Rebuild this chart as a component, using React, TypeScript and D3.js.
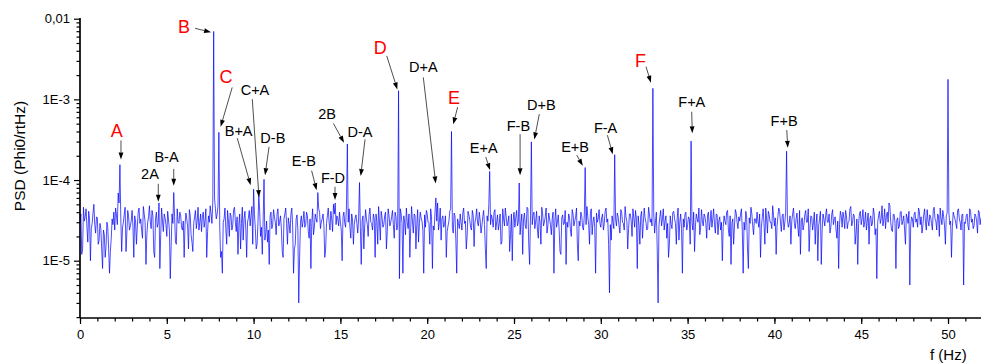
import { useEffect, useRef } from "react";
import * as d3 from "d3";

// Noise floor, in units of 1e-6 Phi0/rtHz, sampled every 0.1 Hz (one row per Hz).
const NOISE_STEP = 0.1;
const NOISE = [
  30, 12, 46, 35, 26, 41, 10, 29, 50, 22,
  34, 18, 25, 8, 21, 15, 26, 7, 19, 28,
  24, 37, 69, 40, 13, 30, 46, 22, 35, 27,
  42, 11, 31, 26, 45, 33, 19, 38, 9, 30,
  48, 25, 36, 11, 40, 29, 8, 45, 23, 34,
  20, 32, 6, 38, 27, 17, 44, 29, 36, 24,
  11, 39, 27, 43, 21, 13, 35, 25, 46, 30,
  23, 40, 31, 11, 36, 48, 29, 33, 44, 38,
  52, 11, 7, 33, 25, 42, 20, 36, 28, 46,
  23, 12, 38, 29, 18, 41, 11, 34, 27, 47,
  30, 25, 16, 35, 20, 12, 37, 22, 17, 9,
  40, 28, 35, 21, 44, 30, 25, 11, 38, 29,
  34, 22, 45, 7, 16, 37, 3, 30, 26, 41,
  28, 36, 19, 8, 44, 26, 33, 22, 40, 30,
  38, 11, 29, 45, 24, 33, 50, 21, 36, 27,
  30, 10, 40, 26, 35, 44, 19, 32, 28, 37,
  22, 42, 9, 36, 27, 33, 20, 45, 29, 38,
  11, 31, 47, 18, 34, 28, 40, 23, 36, 30,
  42, 19, 35, 27, 6, 38, 7, 30, 45, 25,
  11, 47, 22, 36, 28, 17, 40, 31, 7, 26,
  38, 29, 44, 8, 24, 35, 52, 30, 18, 36,
  28, 11, 27, 41, 33, 22, 36, 7, 29, 38,
  24, 45, 31, 20, 37, 26, 42, 15, 34, 29,
  40, 22, 35, 28, 8, 31, 19, 37, 26, 43,
  30, 24, 38, 17, 33, 45, 27, 36, 21, 10,
  40, 34, 27, 48, 30, 12, 39, 25, 44, 9,
  33, 37, 25, 41, 19, 30, 46, 27, 35, 22,
  39, 28, 33, 7, 44, 30, 24, 12, 37, 29,
  9, 26, 34, 20, 38, 31, 45, 10, 27, 36,
  24, 32, 47, 28, 39, 21, 35, 7, 30, 43,
  26, 38, 29, 45, 33, 4, 18, 30, 42, 27,
  35, 22, 40, 29, 47, 31, 25, 38, 20, 34,
  42, 8, 28, 36, 19, 45, 30, 25, 38, 33,
  30, 22, 40, 3, 35, 27, 44, 31, 19, 11,
  36, 25, 41, 29, 34, 18, 38, 7, 26, 40,
  28, 33, 45, 24, 13, 38, 30, 21, 43, 27,
  35, 19, 40, 30, 26, 44, 22, 37, 31, 24,
  10, 36, 28, 42, 20, 9, 33, 27, 39, 25,
  31, 44, 7, 24, 36, 8, 29, 38, 21, 33,
  40, 26, 11, 34, 29, 45, 22, 37, 30, 48,
  27, 12, 35, 41, 23, 38, 30, 44, 26, 36,
  31, 45, 25, 39, 20, 12, 34, 28, 42, 30,
  13, 36, 24, 40, 29, 10, 33, 9, 38, 27,
  44, 30, 22, 37, 28, 35, 19, 8, 41, 26,
  34, 42, 25, 31, 47, 29, 36, 22, 9, 38,
  28, 43, 30, 24, 39, 33, 27, 45, 21, 6,
  36, 29, 48, 32, 25, 40, 52, 30, 23, 37,
  8, 34, 27, 41, 31, 24, 38, 29, 5, 35,
  26, 40, 33, 45, 28, 22, 37, 30, 43, 27,
  35, 24, 46, 31, 38, 20, 33, 42, 27, 36,
  30, 28, 11, 40, 33, 25, 44, 30, 37, 5,
  29, 38, 24, 41, 33, 27, 36, 22, 40, 34,
];

// Samples in between (at 0.05 Hz + k * 0.1 Hz), same units.
const NOISE_MID = [
  38, 14, 31, 44, 17, 33, 25, 39, 28, 35,
  16, 29, 14, 24, 11, 30, 14, 13, 33, 40,
  45, 28, 52, 33, 26, 38, 13, 42, 24, 31,
  27, 36, 16, 40, 29, 24, 47, 30, 21, 35,
  30, 42, 13, 33, 26, 52, 21, 31, 38, 28,
  41, 24, 15, 29, 35, 16, 30, 40, 26, 31,
  28, 33, 14, 36, 17, 29, 42, 31, 24, 38,
  35, 26, 44, 23, 30, 38, 55, 60, 33, 48,
  26, 13, 30, 45, 16, 31, 39, 24, 43, 30,
  35, 28, 14, 46, 33, 25, 30, 42, 36, 16,
  37, 14, 29, 41, 26, 32, 18, 31, 24, 36,
  25, 43, 30, 38, 27, 36, 13, 33, 45, 16,
  28, 38, 27, 14, 33, 24, 11, 36, 31, 26,
  40, 23, 33, 29, 21, 38, 30, 44, 25, 33,
  27, 14, 36, 30, 41, 23, 38, 28, 33, 40,
  24, 35, 29, 48, 30, 26, 38, 16, 34, 29,
  34, 26, 31, 14, 43, 28, 37, 30, 24, 33,
  38, 16, 30, 41, 26, 36, 14, 44, 27, 35,
  28, 40, 24, 33, 44, 29, 36, 21, 30, 38,
  25, 31, 38, 14, 43, 29, 34, 24, 37, 42,
  30, 16, 35, 27, 40, 31, 24, 45, 33, 26,
  36, 23, 31, 44, 26, 39, 18, 33, 25, 30,
  39, 29, 14, 41, 32, 24, 36, 30, 44, 27,
  32, 27, 42, 14, 36, 50, 28, 33, 40, 24,
  37, 29, 16, 44, 27, 35, 30, 13, 38, 31,
  26, 42, 30, 21, 38, 33, 27, 46, 16, 36,
  28, 40, 31, 24, 36, 16, 38, 30, 45, 27,
  33, 21, 40, 30, 26, 37, 13, 34, 28, 42,
  30, 38, 24, 43, 27, 35, 16, 31, 40, 26,
  37, 28, 35, 16, 44, 30, 26, 39, 33, 29,
  34, 24, 41, 30, 16, 28, 36, 25, 33, 39,
  27, 43, 30, 24, 35, 14, 38, 31, 44, 26,
  33, 36, 16, 41, 29, 34, 24, 46, 30, 27,
  38, 31, 14, 27, 42, 33, 24, 36, 29, 16,
  28, 40, 33, 16, 45, 30, 25, 33, 38, 24,
  35, 16, 30, 40, 27, 33, 45, 26, 31, 38,
  29, 37, 24, 42, 33, 28, 38, 21, 35, 30,
  26, 31, 40, 24, 36, 29, 16, 43, 30, 35,
  38, 24, 30, 41, 14, 34, 46, 27, 33, 29,
  31, 38, 26, 44, 16, 33, 41, 30, 25, 36,
  34, 27, 45, 30, 36, 24, 40, 33, 29, 16,
  38, 29, 33, 26, 42, 31, 24, 37, 30, 44,
  26, 35, 30, 16, 38, 27, 41, 24, 33, 36,
  30, 38, 26, 43, 33, 24, 31, 28, 36, 40,
  25, 36, 30, 44, 27, 38, 16, 33, 29, 41,
  33, 26, 40, 31, 16, 36, 29, 38, 25, 30,
  41, 33, 27, 44, 36, 30, 48, 24, 38, 29,
  32, 25, 40, 28, 36, 16, 34, 41, 27, 33,
  38, 30, 26, 41, 35, 27, 44, 24, 31, 37,
  29, 42, 33, 24, 36, 45, 28, 35, 16, 39,
  40, 31, 26, 36, 29, 42, 33, 24, 38, 30,
  36, 27, 44, 30, 25, 38, 31, 42, 28, 35,
];

// Spectral lines (Hz, Phi0/rtHz).
const PEAK_FREQ = [2.3, 5.4, 7.7, 8.0, 10.0, 10.3, 10.6, 13.7, 14.7, 15.4, 16.1, 18.35, 20.5, 21.4, 23.6, 25.3, 26.0, 29.1, 30.8, 33.0, 35.2, 40.7, 50.0];
const PEAK_VALUE = [1.55e-4, 7.0e-5, 6.95e-3, 3.9e-4, 7.7e-5, 6.5e-5, 1.02e-4, 7.0e-5, 5.2e-5, 2.8e-4, 9.3e-5, 1.28e-3, 6.0e-5, 4.0e-4, 1.28e-4, 9.2e-5, 2.97e-4, 1.43e-4, 2.06e-4, 1.37e-3, 3.04e-4, 2.28e-4, 1.77e-3];

// Annotations: label and where its arrow points (Hz, Phi0/rtHz).
const NOTE_TEXT = ["A", "2A", "B-A", "B", "C", "B+A", "C+A", "D-B", "E-B", "F-D", "2B", "D-A", "D", "D+A", "E", "E+A", "F-B", "D+B", "E+B", "F-A", "F", "F+A", "F+B"];
const NOTE_FREQ = [2.36, 4.51, 5.4, 7.55, 8.1, 9.83, 10.31, 10.66, 13.63, 14.69, 15.21, 16.17, 18.28, 20.49, 21.5, 23.62, 25.35, 26.17, 28.96, 30.69, 32.89, 35.27, 40.77];
const NOTE_VALUE = [1.8e-4, 5.37e-5, 8.47e-5, 6.78e-3, 4.57e-4, 8.65e-5, 6.14e-5, 1.15e-4, 7.5e-5, 5.64e-5, 2.9e-4, 1.12e-4, 1.33e-3, 9.08e-5, 4.9e-4, 1.33e-4, 1.15e-4, 3.19e-4, 1.5e-4, 2.09e-4, 1.61e-3, 3.79e-4, 2.51e-4];
const MAIN_LINES = ["A", "B", "C", "D", "E", "F"];

// Arrow start (dx, dy) and label anchor (dx, dy) relative to the arrow tip, px.
const NOTE_LAYOUT: Record<string, [number, number, number, number]> = {
  A: [0, -19, -4.3, -22.6],
  "2A": [0, -18, -8.3, -22.7],
  "B-A": [0, -17, -7.2, -24],
  B: [-16, -4, -27, 1],
  C: [11.6, -39.4, 5.3, -43.4],
  "B+A": [-13.4, -47, -12, -49.5],
  "C+A": [-6.7, -98, -4, -102],
  "D-B": [4, -28.3, 7.8, -32],
  "E-B": [-5, -19.5, -12.7, -24.3],
  "F-D": [0, -13.3, -2, -17.3],
  "2B": [-10.7, -19.4, -17, -23.7],
  "D-A": [4.3, -36.7, -0.7, -39.3],
  D: [-10.6, -33.5, -17, -35.3],
  "D+A": [-12.4, -106, -12.4, -111.6],
  E: [4.4, -17.3, 0.7, -20.3],
  "E+A": [-4.3, -13, -6.3, -16.7],
  "F-B": [0, -41, -1.7, -44],
  "D+B": [5, -25.3, 7, -29.3],
  "E+B": [-6, -10.7, -7.7, -13.4],
  "F-A": [-5.4, -19, -7.2, -21.7],
  F: [-5, -16, -10.5, -16],
  "F+A": [-0.6, -21.6, -0.5, -26.6],
  "F+B": [-1, -17.7, -3.7, -22],
};

const X_MAJOR = [0, 5, 10, 15, 20, 25, 30, 35, 40, 45, 50];
const X_MINOR = d3.range(0, 52, 1);
const Y_MAJOR = [1e-5, 1e-4, 1e-3, 1e-2];
const Y_MAJOR_LABELS = ["1E-5", "1E-4", "1E-3", "0,01"];

const WIDTH = 981;
const HEIGHT = 363;
const PLOT = { left: 80, right: 981, top: 18, bottom: 318 };
const FONT = "'Liberation Sans', Arial, sans-serif";

type Pt = { f: number; v: number };

export default function App() {
  const svgRef = useRef<SVGSVGElement | null>(null);

  useEffect(() => {
    const svgEl = svgRef.current;
    if (!svgEl) return;
    const svg = d3.select(svgEl);
    svg.selectAll("*").remove();

    const x = d3.scaleLinear().domain([0, 51.9]).range([PLOT.left, PLOT.right]);
    const y = d3.scaleLog().domain([1.95e-6, 0.0102]).range([PLOT.bottom, PLOT.top]);

    const peaks: Pt[] = PEAK_FREQ.map((f, i) => ({ f, v: PEAK_VALUE[i] }));
    const noise: Pt[] = NOISE.map((v, i) => ({ f: i * NOISE_STEP, v: v * 1e-6 }))
      .concat(NOISE_MID.map((v, i) => ({ f: (i + 0.5) * NOISE_STEP, v: v * 1e-6 })))
      .filter((p) => !peaks.some((pk) => Math.abs(pk.f - p.f) < 0.04));
    const points = noise.concat(peaks).sort((a, b) => a.f - b.f);

    svg
      .append("clipPath")
      .attr("id", "plot-clip")
      .append("rect")
      .attr("x", PLOT.left)
      .attr("y", PLOT.top)
      .attr("width", PLOT.right - PLOT.left)
      .attr("height", PLOT.bottom - PLOT.top);

    // Spectrum trace.
    svg
      .append("path")
      .attr("clip-path", "url(#plot-clip)")
      .attr("fill", "none")
      .attr("stroke", "#0000ff")
      .attr("stroke-width", 0.7)
      .attr(
        "d",
        d3
          .line<Pt>()
          .x((p) => x(p.f))
          .y((p) => y(p.v))(points),
      );

    // X axis: minor ticks every Hz, labelled major ticks every 5 Hz.
    const gx = svg.append("g").attr("transform", `translate(0, ${PLOT.bottom})`);
    gx.append("g")
      .call(d3.axisBottom(x).tickValues(X_MINOR).tickSize(3.5).tickFormat(() => ""))
      .call((g) => g.select(".domain").remove());
    gx.append("g")
      .call(d3.axisBottom(x).tickValues(X_MAJOR).tickSize(6).tickPadding(6).tickFormat((d) => String(d)))
      .call((g) => g.select(".domain").remove())
      .call((g) => g.selectAll("text").attr("font-size", 13).attr("font-family", FONT).attr("fill", "#000"));
    gx.selectAll(".tick line").attr("stroke", "#000").attr("stroke-width", 1.2);

    // Y axis: log decades with minor ticks.
    const minor = y.ticks().filter((t) => !Y_MAJOR.some((m) => Math.abs(m - t) / m < 1e-6));
    const gy = svg.append("g").attr("transform", `translate(${PLOT.left}, 0)`);
    gy.append("g")
      .call(d3.axisLeft(y).tickValues(minor).tickSize(3.5).tickFormat(() => ""))
      .call((g) => g.select(".domain").remove());
    gy.append("g")
      .call(
        d3
          .axisLeft(y)
          .tickValues(Y_MAJOR)
          .tickSize(6)
          .tickPadding(4)
          .tickFormat((_, i) => Y_MAJOR_LABELS[i]),
      )
      .call((g) => g.select(".domain").remove())
      .call((g) => g.selectAll("text").attr("font-size", 13).attr("font-family", FONT).attr("fill", "#000"));
    gy.selectAll(".tick line").attr("stroke", "#000").attr("stroke-width", 1.2);

    // Axis lines.
    svg
      .append("line")
      .attr("x1", PLOT.left)
      .attr("x2", PLOT.right)
      .attr("y1", PLOT.bottom)
      .attr("y2", PLOT.bottom)
      .attr("stroke", "#000")
      .attr("stroke-width", 1.7);
    svg
      .append("line")
      .attr("x1", PLOT.left)
      .attr("x2", PLOT.left)
      .attr("y1", PLOT.top)
      .attr("y2", PLOT.bottom)
      .attr("stroke", "#000")
      .attr("stroke-width", 1.7);

    // Axis titles.
    svg
      .append("text")
      .attr("transform", `translate(25, 156) rotate(-90)`)
      .attr("text-anchor", "middle")
      .attr("font-family", FONT)
      .attr("font-size", 15.5)
      .text("PSD (Phi0/rtHz)");
    svg
      .append("text")
      .attr("x", 930)
      .attr("y", 360)
      .attr("font-family", FONT)
      .attr("font-size", 15)
      .text("f (Hz)");

    // Annotations with arrows.
    const gNotes = svg.append("g");
    NOTE_TEXT.forEach((text, i) => {
      const [ax, ay, tx, ty] = NOTE_LAYOUT[text];
      const tipX = x(NOTE_FREQ[i]);
      const tipY = y(NOTE_VALUE[i]);
      const sx = tipX + ax;
      const sy = tipY + ay;
      const len = Math.hypot(tipX - sx, tipY - sy);
      const ux = (tipX - sx) / len;
      const uy = (tipY - sy) / len;
      const head = 7;
      const half = 2.4;
      const bx = tipX - ux * head;
      const by = tipY - uy * head;
      gNotes
        .append("line")
        .attr("x1", sx)
        .attr("y1", sy)
        .attr("x2", bx)
        .attr("y2", by)
        .attr("stroke", "#222")
        .attr("stroke-width", 0.8);
      gNotes
        .append("path")
        .attr("d", `M${tipX},${tipY}L${bx - uy * half},${by + ux * half}L${bx + uy * half},${by - ux * half}Z`)
        .attr("fill", "#000");
      const red = MAIN_LINES.includes(text);
      gNotes
        .append("text")
        .attr("x", tipX + tx)
        .attr("y", tipY + ty)
        .attr("text-anchor", "middle")
        .attr("font-family", FONT)
        .attr("font-size", red ? 18 : 14.5)
        .attr("fill", red ? "#ff0000" : "#000")
        .text(text);
    });
  }, []);

  return (
    <div style={{ position: "absolute", left: 0, top: 0, width: WIDTH, height: HEIGHT, background: "#fff" }}>
      <svg ref={svgRef} width={WIDTH} height={HEIGHT} viewBox={`0 0 ${WIDTH} ${HEIGHT}`} />
    </div>
  );
}
